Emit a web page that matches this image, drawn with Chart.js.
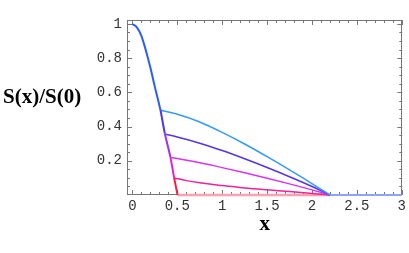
<!DOCTYPE html>
<html lang="en">
<head>
<meta charset="UTF-8">
<title>S(x)/S(0)</title>
<script src="https://cdn.jsdelivr.net/npm/chart.js"></script>
<style>
  body { margin: 0; background: #fff; }
  #chart { display: block; }
</style>
</head>
<body>
<canvas id="chart" width="409" height="253"></canvas>
<script>
// main curve (colour changes at each branch point)
const mainX = [0, 0.05, 0.1, 0.15, 0.2, 0.25, 0.313, 0.361, 0.424, 0.465, 0.503];
const mainY = [1, 0.98, 0.93, 0.845, 0.745, 0.632, 0.495, 0.36, 0.22, 0.1, 0];
const mainBreaks = [0.313, 0.361, 0.424, 0.465];
const mainColors = ['#2a5cff', '#4a38f0', '#a22ef0', '#e620d0', '#ff1a40'];

// branches from the main curve to x = 2.2
const b1X = [0.313, 0.5, 0.75, 1.0, 1.25, 1.5, 1.75, 2.0, 2.2];
const b1Y = [0.495, 0.472, 0.427, 0.366, 0.298, 0.224, 0.147, 0.067, 0];
const b2X = [0.361, 0.5, 0.75, 1.0, 1.25, 1.5, 1.75, 2.0, 2.2];
const b2Y = [0.356, 0.339, 0.303, 0.26, 0.212, 0.161, 0.107, 0.05, 0];
const b3X = [0.424, 0.5, 0.75, 1.0, 1.25, 1.5, 1.75, 2.0, 2.2];
const b3Y = [0.22, 0.213, 0.188, 0.16, 0.13, 0.098, 0.065, 0.03, 0];
const b4X = [0.465, 0.6, 0.75, 1.0, 1.25, 1.5, 1.75, 2.0, 2.2];
const b4Y = [0.1, 0.084, 0.071, 0.055, 0.041, 0.03, 0.02, 0.009, 0];
const baseX = [0.503, 2.2];
const baseY = [0, 0];
const tailX = [2.2, 3.0];
const tailY = [0, 0];

const xTicks = [0, 0.5, 1, 1.5, 2, 2.5, 3];
const yTicks = [0.2, 0.4, 0.6, 0.8, 1];
const xMinorStep = 0.1;
const yMinorStep = 0.05;

function pts(xs, ys) {
  return xs.map((x, i) => ({ x: x, y: ys[i] }));
}

function mainColor(x) {
  let k = 0;
  for (let i = 0; i < mainBreaks.length; i++) {
    if (x >= mainBreaks[i] - 1e-9) k = i + 1;
  }
  return mainColors[k];
}

const tickFont = { family: 'Liberation Mono', size: 14 };

// Mathematica-style frame with inward ticks on all four sides
const framePlugin = {
  id: 'frame',
  beforeDatasetsDraw(chart) {
    const ctx = chart.ctx;
    const xs = chart.scales.x, ys = chart.scales.y;
    const { left, right, top, bottom } = chart.chartArea;
    ctx.save();
    ctx.strokeStyle = '#777';
    ctx.lineWidth = 1;
    ctx.strokeRect(Math.round(left) + 0.5, Math.round(top) + 0.5,
      Math.round(right - left) - 1, Math.round(bottom - top) - 1);

    ctx.beginPath();
    for (let v = 0; v <= 3.0001; v += xMinorStep) {
      const major = xTicks.some(t => Math.abs(t - v) < 1e-6);
      const len = major ? 5 : 3;
      const px = Math.round(xs.getPixelForValue(v)) + 0.5;
      ctx.moveTo(px, bottom); ctx.lineTo(px, bottom - len);
      ctx.moveTo(px, top); ctx.lineTo(px, top + len);
    }
    for (let v = yMinorStep; v <= 1.0001; v += yMinorStep) {
      const major = yTicks.some(t => Math.abs(t - v) < 1e-6);
      const len = major ? 5 : 3;
      const py = Math.round(ys.getPixelForValue(v)) + 0.5;
      ctx.moveTo(left, py); ctx.lineTo(left + len, py);
      ctx.moveTo(right, py); ctx.lineTo(right - len, py);
    }
    ctx.stroke();
    ctx.restore();
  },
  afterDraw(chart) {
    const ctx = chart.ctx;
    ctx.save();
    ctx.font = 'bold 21px "Liberation Serif"';
    ctx.fillStyle = '#000';
    ctx.textAlign = 'left';
    ctx.textBaseline = 'middle';
    ctx.fillText('S(x)/S(0)', 3, 98);
    ctx.restore();
  }
};

new Chart(document.getElementById('chart'), {
  type: 'scatter',
  data: {
    datasets: [
      {
        data: pts(mainX, mainY),
        borderWidth: 2,
        borderColor: mainColors[0],
        segment: { borderColor: c => mainColor(c.p0.parsed.x) },
        cubicInterpolationMode: 'monotone'
      },
      { data: pts(b1X, b1Y), borderColor: '#3399ff', borderWidth: 1.5, cubicInterpolationMode: 'monotone' },
      { data: pts(b2X, b2Y), borderColor: '#5533ee', borderWidth: 1.5, cubicInterpolationMode: 'monotone' },
      { data: pts(b3X, b3Y), borderColor: '#d633f5', borderWidth: 1.5, cubicInterpolationMode: 'monotone' },
      { data: pts(b4X, b4Y), borderColor: '#ee2299', borderWidth: 1.5, cubicInterpolationMode: 'monotone' },
      { data: pts(baseX, baseY), borderColor: '#ffa0b0', borderWidth: 2.5 },
      { data: pts(tailX, tailY), borderColor: '#8ca4ff', borderWidth: 2 }
    ].map(d => Object.assign({ showLine: true, pointRadius: 0, fill: false, clip: false }, d))
  },
  options: {
    responsive: false,
    animation: false,
    devicePixelRatio: 1,
    layout: { padding: { top: 20, right: 6, bottom: 16, left: 0 } },
    plugins: { legend: { display: false }, tooltip: { enabled: false } },
    scales: {
      x: {
        type: 'linear',
        min: -0.06,
        max: 3.006,
        afterBuildTicks: s => { s.ticks = xTicks.map(v => ({ value: v })); },
        afterFit: s => { s.height = 42; },
        grid: { display: false, drawTicks: false },
        border: { display: false },
        ticks: { font: tickFont, color: '#333', padding: 3, maxRotation: 0, autoSkip: false,
          callback: v => String(v) },
        title: { display: true, text: 'x', color: '#000', padding: 0,
          font: { family: 'Liberation Serif', size: 21, weight: 'bold' } }
      },
      y: {
        type: 'linear',
        min: 0,
        max: 1.023,
        afterBuildTicks: s => { s.ticks = yTicks.map(v => ({ value: v })); },
        afterFit: s => { s.width = 127; },
        grid: { display: false, drawTicks: false },
        border: { display: false },
        ticks: { font: tickFont, color: '#333', padding: 5, autoSkip: false,
          callback: v => String(v) }
      }
    }
  },
  plugins: [framePlugin]
});
</script>
</body>
</html>
